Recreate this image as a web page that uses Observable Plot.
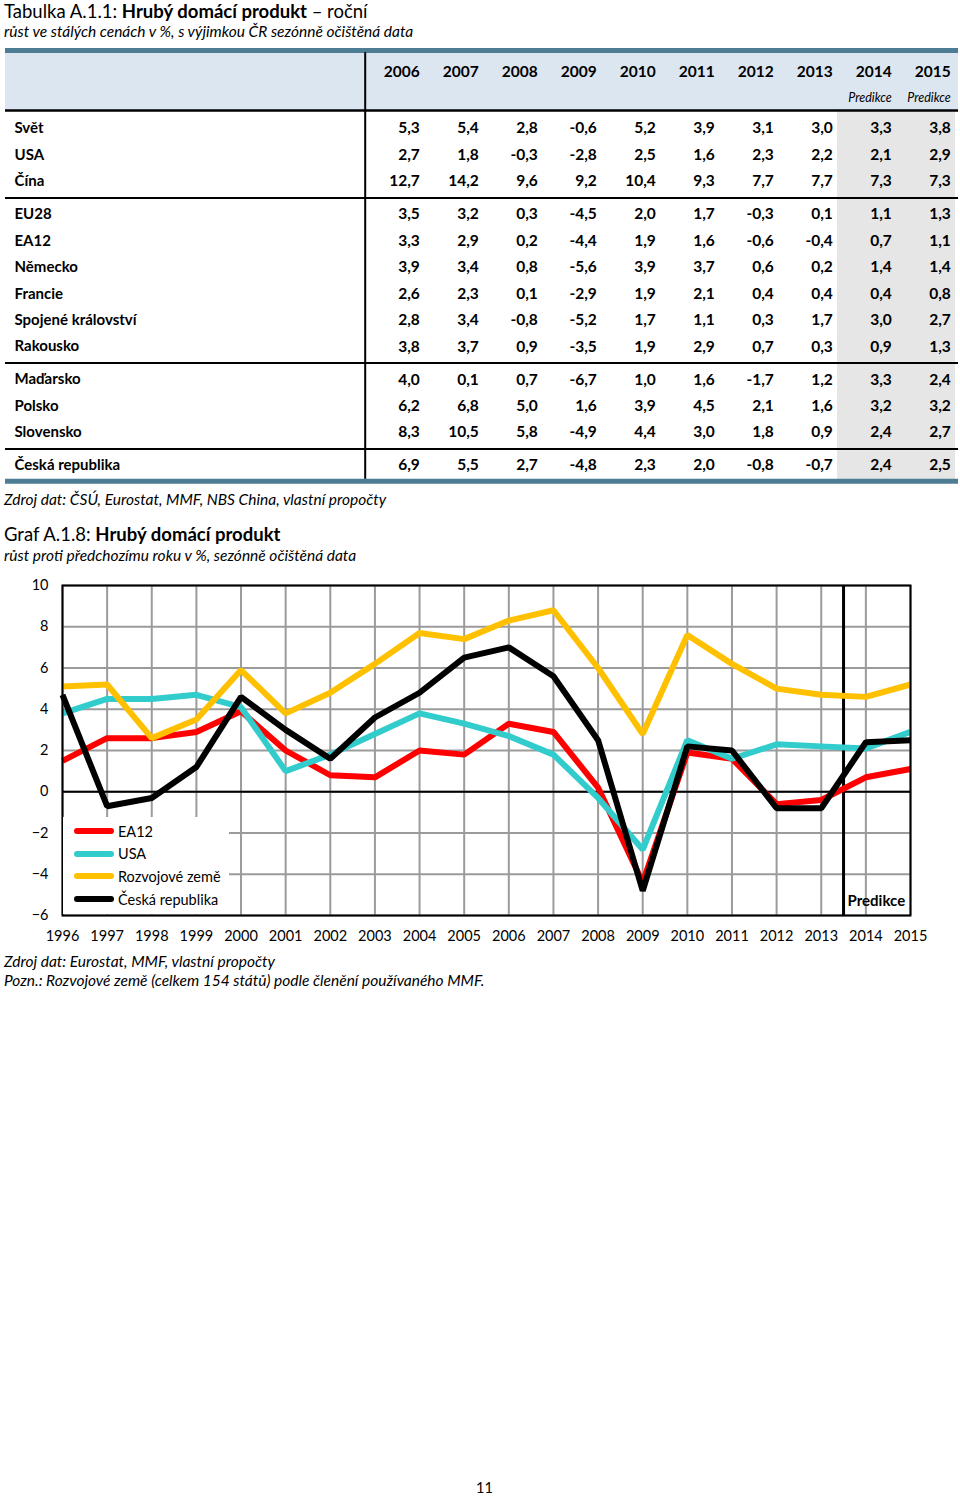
<!DOCTYPE html>
<html>
<head>
<meta charset="utf-8">
<script src="https://cdn.jsdelivr.net/npm/d3@7"></script>
<script src="https://cdn.jsdelivr.net/npm/@observablehq/plot@0.6"></script>
<style>
  html, body { margin: 0; padding: 0; background: #fff; }
  #page { position: relative; width: 960px; height: 1496px; font-family: Lato, "Open Sans", sans-serif; color: #000; overflow: hidden; }
  .abs { position: absolute; white-space: nowrap; line-height: 1.25; }
  .title { font-size: 18.5px; left: 4px; }
  .sub { font-size: 15.5px; font-style: italic; left: 4px; }
  .note { font-size: 15.5px; font-style: italic; left: 4px; }
  #legend { position: absolute; left: 63px; top: 817px; width: 166px; height: 97px; background: #fff; font-size: 14.5px; }
  .li { position: absolute; left: 11px; height: 20px; display: flex; align-items: center; }
  .sw { width: 40px; height: 6px; border-radius: 3px; margin-right: 4px; }
</style>
</head>
<body>
<div id="page">
  <div class="abs title" style="top:0px">Tabulka A.1.1: <b>Hrubý domácí produkt</b> – roční</div>
  <div class="abs sub" style="top:22px">růst ve stálých cenách v %, s výjimkou ČR sezónně očištěná data</div>
  <div id="table" style="position:absolute; left:0; top:44px;"></div>
  <div class="abs note" style="top:490px">Zdroj dat: ČSÚ, Eurostat, MMF, NBS China, vlastní propočty</div>
  <div class="abs title" style="top:523px">Graf A.1.8: <b>Hrubý domácí produkt</b></div>
  <div class="abs sub" style="top:546px">růst proti předchozímu roku v %, sezónně očištěná data</div>
  <div id="chart" style="position:absolute; left:0; top:568px;"></div>
  <div id="legend"></div>
  <div class="abs note" style="top:952px">Zdroj dat: Eurostat, MMF, vlastní propočty</div>
  <div class="abs note" style="top:971px">Pozn.: Rozvojové země (celkem 154 států) podle členění používaného MMF.</div>
  <div class="abs" style="top:1479px; left:476px; font-size:14.5px;">11</div>
</div>
<script>
// ---------------- TABLE DATA ----------------
const tableYears = [2006, 2007, 2008, 2009, 2010, 2011, 2012, 2013, 2014, 2015];
const forecastYears = [2014, 2015];
const forecastLabel = "Predikce";
const countries = ["Svět", "USA", "Čína", "EU28", "EA12", "Německo", "Francie", "Spojené království", "Rakousko", "Maďarsko", "Polsko", "Slovensko", "Česká republika"];
const countryGroup = [0, 0, 0, 1, 1, 1, 1, 1, 1, 2, 2, 2, 3];
const svet      = [5.3, 5.4, 2.8, -0.6, 5.2, 3.9, 3.1, 3.0, 3.3, 3.8];
const usaT      = [2.7, 1.8, -0.3, -2.8, 2.5, 1.6, 2.3, 2.2, 2.1, 2.9];
const cina      = [12.7, 14.2, 9.6, 9.2, 10.4, 9.3, 7.7, 7.7, 7.3, 7.3];
const eu28      = [3.5, 3.2, 0.3, -4.5, 2.0, 1.7, -0.3, 0.1, 1.1, 1.3];
const ea12T     = [3.3, 2.9, 0.2, -4.4, 1.9, 1.6, -0.6, -0.4, 0.7, 1.1];
const nemecko   = [3.9, 3.4, 0.8, -5.6, 3.9, 3.7, 0.6, 0.2, 1.4, 1.4];
const francie   = [2.6, 2.3, 0.1, -2.9, 1.9, 2.1, 0.4, 0.4, 0.4, 0.8];
const uk        = [2.8, 3.4, -0.8, -5.2, 1.7, 1.1, 0.3, 1.7, 3.0, 2.7];
const rakousko  = [3.8, 3.7, 0.9, -3.5, 1.9, 2.9, 0.7, 0.3, 0.9, 1.3];
const madarsko  = [4.0, 0.1, 0.7, -6.7, 1.0, 1.6, -1.7, 1.2, 3.3, 2.4];
const polsko    = [6.2, 6.8, 5.0, 1.6, 3.9, 4.5, 2.1, 1.6, 3.2, 3.2];
const slovensko = [8.3, 10.5, 5.8, -4.9, 4.4, 3.0, 1.8, 0.9, 2.4, 2.7];
const cr        = [6.9, 5.5, 2.7, -4.8, 2.3, 2.0, -0.8, -0.7, 2.4, 2.5];
const tableValues = [svet, usaT, cina, eu28, ea12T, nemecko, francie, uk, rakousko, madarsko, polsko, slovensko, cr];

// ---------------- CHART DATA ----------------
const chartYears = [1996, 1997, 1998, 1999, 2000, 2001, 2002, 2003, 2004, 2005, 2006, 2007, 2008, 2009, 2010, 2011, 2012, 2013, 2014, 2015];
const seriesNames = ["EA12", "USA", "Rozvojové země", "Česká republika"];
const ea12  = [1.5, 2.6, 2.6, 2.9, 3.9, 2.0, 0.8, 0.7, 2.0, 1.8, 3.3, 2.9, 0.2, -4.4, 1.9, 1.6, -0.6, -0.4, 0.7, 1.1];
const usa   = [3.8, 4.5, 4.5, 4.7, 4.1, 1.0, 1.8, 2.8, 3.8, 3.3, 2.7, 1.8, -0.3, -2.8, 2.5, 1.6, 2.3, 2.2, 2.1, 2.9];
const rozv  = [5.1, 5.2, 2.6, 3.5, 5.9, 3.8, 4.8, 6.2, 7.7, 7.4, 8.3, 8.8, 6.0, 2.8, 7.6, 6.2, 5.0, 4.7, 4.6, 5.2];
const cz    = [4.7, -0.7, -0.3, 1.2, 4.6, 3.0, 1.6, 3.6, 4.8, 6.5, 7.0, 5.6, 2.5, -4.8, 2.2, 2.0, -0.8, -0.8, 2.4, 2.5];
const seriesValues = [ea12, usa, rozv, cz];
const yTicks = [-6, -4, -2, 0, 2, 4, 6, 8, 10];
const forecastStart = 2013.5;

// styles
const seriesColors = ["#ff0000", "#33cccc", "#ffc000", "#000000"];
const fontFamily = "Lato, 'Open Sans', sans-serif";

// ---------------- TABLE (Plot) ----------------
const rowStep = 26.43;            // pixels per table row
const firstRowPx = 84;            // pixel of first row within the table svg
const groupGap = 0.25;            // extra row-fraction between groups
const slotOf = i => i + countryGroup[i] * groupGap;
const nRows = countries.length;
const lastSlot = slotOf(nRows - 1);
const hdr = { top: -2.95, bgTop: -2.87, year: -2.15, pred: -1.17, line: -0.68, bottom: lastSlot + 0.6 };
const tableX0 = 362, tableX1 = 958;
const bw = (tableX1 - tableX0) / tableYears.length;
const cellPad = 5;

const rows = countries.map((c, i) => ({ name: c, slot: slotOf(i) }));
const cells = [];
countries.forEach((c, i) => tableValues[i].forEach((v, j) => cells.push({ name: c, year: tableYears[j], value: v, slot: slotOf(i) })));
const separators = [];
for (let i = 1; i < nRows; i++) if (countryGroup[i] !== countryGroup[i - 1]) separators.push((slotOf(i) + slotOf(i - 1)) / 2);
const fmt = v => v.toFixed(1).replace(".", ",");

const table = Plot.plot({
  width: 960, height: 446,
  marginLeft: 5, marginRight: 2, marginTop: 0, marginBottom: 0,
  style: { fontFamily, fontSize: "15.5px", background: "transparent", color: "#000" },
  x: { type: "band", domain: tableYears, range: [tableX0, tableX1], padding: 0, axis: null },
  y: { domain: [-3, 13.5], range: [firstRowPx - 3 * rowStep, firstRowPx + 13.5 * rowStep], axis: null },
  marks: [
    Plot.barY([0], { y1: () => hdr.bgTop, y2: () => hdr.line, fill: "#dce6f1" }),
    Plot.barY(forecastYears, { x: d => d, y1: () => hdr.line + 0.04, y2: () => hdr.bottom - 0.05, fill: "#e6e6e6" }),
    Plot.ruleY([hdr.top], { stroke: "#4d7d94", strokeWidth: 5 }),
    Plot.ruleY([hdr.bottom], { stroke: "#4d7d94", strokeWidth: 5 }),
    Plot.ruleY([hdr.line], { stroke: "#000", strokeWidth: 2.5 }),
    Plot.ruleY(separators, { stroke: "#000", strokeWidth: 2 }),
    Plot.ruleX([tableYears[0]], { x: d => d, dx: -bw / 2, y1: () => hdr.bgTop, y2: () => hdr.bottom - 0.08, stroke: "#000", strokeWidth: 2 }),
    Plot.text(tableYears, { x: d => d, y: () => hdr.year, text: d => String(d), textAnchor: "end", dx: bw / 2 - cellPad, fontWeight: "bold" }),
    Plot.text(forecastYears, { x: d => d, y: () => hdr.pred, text: () => forecastLabel, textAnchor: "end", dx: bw / 2 - cellPad, fontStyle: "italic", fontSize: 12.5 }),
    Plot.text(rows, { y: "slot", text: "name", frameAnchor: "left", dx: 9, textAnchor: "start", fontWeight: "bold", fontSize: 15 }),
    Plot.text(cells, { x: "year", y: "slot", text: d => fmt(d.value), textAnchor: "end", dx: bw / 2 - cellPad, fontWeight: "bold" })
  ]
});
document.getElementById("table").appendChild(table);

// ---------------- CHART (Plot) ----------------
const chartData = [];
seriesNames.forEach((n, s) => chartYears.forEach((yr, i) => chartData.push({ name: n, year: yr, value: seriesValues[s][i] })));

const chart = Plot.plot({
  width: 960, height: 380,
  marginTop: 17, marginBottom: 33, marginLeft: 62, marginRight: 50,
  style: { fontFamily, fontSize: "14.5px", background: "transparent", color: "#000" },
  x: { domain: [chartYears[0], chartYears[chartYears.length - 1]], ticks: chartYears, tickFormat: d => String(d), tickSize: 0, tickPadding: 15, label: null },
  y: { domain: [yTicks[0], yTicks[yTicks.length - 1]], ticks: yTicks, tickSize: 0, tickPadding: 14, label: null },
  color: { domain: seriesNames, range: seriesColors },
  marks: [
    Plot.gridX(chartYears, { stroke: "#9b9b9b", strokeOpacity: 1, strokeWidth: 2 }),
    Plot.gridY(yTicks, { stroke: "#9b9b9b", strokeOpacity: 1, strokeWidth: 2 }),
    Plot.ruleY([0], { stroke: "#000", strokeWidth: 2 }),
    Plot.ruleX([forecastStart], { stroke: "#000", strokeWidth: 3 }),
    Plot.line(chartData, { x: "year", y: "value", z: "name", stroke: "name", strokeWidth: 6, strokeLinejoin: "miter", strokeLinecap: "butt" }),
    Plot.frame({ stroke: "#000", strokeWidth: 2 }),
    Plot.text([forecastLabel], { x: () => forecastStart, y: () => yTicks[0], text: d => d, textAnchor: "start", dx: 4, dy: -14, fontWeight: "bold", fontSize: 15 })
  ]
});
document.getElementById("chart").appendChild(chart);

// legend (HTML overlay inside plot area)
const legend = document.getElementById("legend");
seriesNames.forEach((n, i) => {
  const item = document.createElement("div");
  item.className = "li";
  item.style.top = (4 + i * 22.7) + "px";
  const sw = document.createElement("span");
  sw.className = "sw";
  sw.style.background = seriesColors[i];
  const t = document.createElement("span");
  t.textContent = n;
  item.appendChild(sw); item.appendChild(t);
  legend.appendChild(item);
});
</script>
</body>
</html>
